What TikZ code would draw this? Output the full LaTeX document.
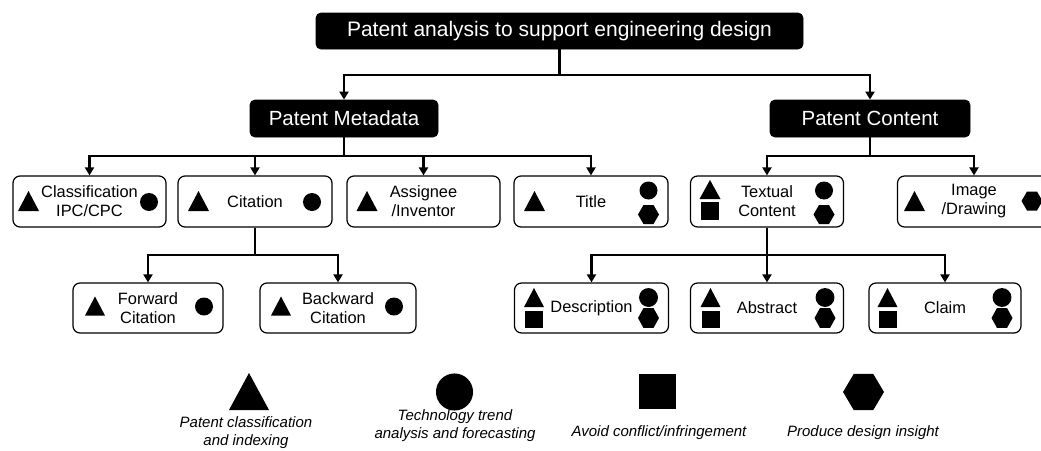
\documentclass[tikz,border=0pt]{standalone}
\usepackage{fontspec}
\setmainfont{Liberation Sans}
\usetikzlibrary{arrows.meta,calc}
\tikzset{
  blk/.style={draw=black, fill=black, text=white, rounded corners=5pt, line width=0.8pt, inner sep=0pt, font=\fontsize{20.5}{24}\selectfont},
  wbox/.style={draw=black, fill=white, rounded corners=7pt, line width=1.2pt, inner sep=0pt, minimum height=51pt, align=center, font=\fontsize{16.4}{19}\selectfont},
  conn/.style={line width=2.7pt},
  arr/.style={conn, -{Triangle[width=9pt,length=8pt]}},
  lgd/.style={align=center, inner sep=0pt, font=\fontsize{15}{18}\selectfont\itshape},
  pics/tri/.style={code={\fill (-10.5,10) -- (10.5,10) -- (0,-10) -- cycle;}},
  pics/circ/.style={code={\fill (0,0) circle[radius=9];}},
  pics/sq/.style={code={\fill (-9,-9) rectangle (9,9);}},
  pics/hex/.style={code={\fill (-10.5,0) -- (-5,-9.5) -- (5,-9.5) -- (10.5,0) -- (5,9.5) -- (-5,9.5) -- cycle;}},
}
\begin{document}
\begin{tikzpicture}[x=1pt,y=-1pt]
\useasboundingbox (0,0) rectangle (1041,450);
\clip (0,0) rectangle (1041,450);

% level 0 and 1
\node[blk, minimum width=487pt, minimum height=36pt, font=\fontsize{21}{24}\selectfont] (top) at (559.5,31) {Patent analysis to support engineering design};
\node[blk, minimum width=188pt, minimum height=37pt] (meta) at (344,118.5) {Patent Metadata};
\node[blk, minimum width=200pt, minimum height=37pt] (cont) at (870,118.5) {Patent Content};

% level 2
\node[wbox, minimum width=153pt] (cls) at (89.5,201.5) {Classification\\IPC/CPC};
\node[wbox, minimum width=154pt] (cit) at (255,201.5) {Citation};
\node[wbox, minimum width=153pt] (asg) at (423.5,201.5) {Assignee\\/Inventor};
\node[wbox, minimum width=154pt] (ttl) at (591,201.5) {Title};
\node[wbox, minimum width=153pt] (txt) at (767,201.5) {Textual\\Content};
\node[wbox, minimum width=153pt] (img) at (974,201.5) {Image\\/Drawing};

% level 3
\node[wbox, minimum width=150pt, minimum height=50pt] (fwd) at (148,308) {Forward\\Citation};
\node[wbox, minimum width=156pt, minimum height=50pt] (bwd) at (338,308) {Backward\\Citation};
\node[wbox, minimum width=154pt, minimum height=50pt] (des) at (591.5,308) {Description};
\node[wbox, minimum width=153pt, minimum height=50pt] (abst) at (767,308) {Abstract};
\node[wbox, minimum width=152pt, minimum height=50pt] (clm) at (945,308) {Claim};

% junction levels
\coordinate (y1) at (0,75);
\coordinate (y2) at (0,156);
\coordinate (y3) at (0,255);

% connectors
\draw[conn] (top.south) -- (top.south |- y1);
\draw[arr] (top.south |- y1) -| (meta.north);
\draw[arr] (top.south |- y1) -| (cont.north);

\draw[conn] (meta.south) -- (meta.south |- y2);
\foreach \n in {cls,cit,asg,ttl} \draw[arr] (meta.south |- y2) -| (\n.north);
\draw[conn] (cont.south) -- (cont.south |- y2);
\foreach \n in {txt,img} \draw[arr] (cont.south |- y2) -| (\n.north);

\draw[conn] (cit.south) -- (cit.south |- y3);
\foreach \n in {fwd,bwd} \draw[arr] (cit.south |- y3) -| (\n.north);
\draw[conn] (txt.south) -- (txt.south |- y3);
\foreach \n in {des,abst,clm} \draw[arr] (txt.south |- y3) -| (\n.north);

% icons, level 2
\pic at (28.5,201) {tri};   \pic at (149,202) {circ};
\pic at (198.5,201) {tri};  \pic at (312,202) {circ};
\pic at (367,201) {tri};
\pic at (534.5,201) {tri};  \pic at (648.5,190.5) {circ}; \pic at (648.5,214.5) {hex};
\pic[yscale=0.95] at (710,189.5) {tri}; \pic at (710,211) {sq};
\pic at (824,190.5) {circ}; \pic at (824,214.5) {hex};
\pic at (914.5,201) {tri};  \pic at (1032,201) {hex};

% icons, level 3
\pic[scale=0.95] at (95,306) {tri};  \pic at (204,306.5) {circ};
\pic[scale=0.95] at (281,306) {tri}; \pic at (394,306.5) {circ};
\pic[scale=0.95] at (534,297.5) {tri}; \pic[yscale=0.95] at (534,319.5) {sq};
\pic[scale=1.05] at (648.5,297.5) {circ}; \pic[yscale=1.05] at (648.5,318) {hex};
\pic[scale=0.95] at (710.5,297.5) {tri}; \pic[yscale=0.95] at (710.5,319.5) {sq};
\pic[scale=1.05] at (825,297.5) {circ}; \pic[yscale=1.05] at (825,318) {hex};
\pic[scale=0.95] at (887.5,297.5) {tri}; \pic[yscale=0.95] at (887.5,319.5) {sq};
\pic[scale=1.05] at (1002,297.5) {circ}; \pic[yscale=1.05] at (1002,318) {hex};

% legend
\pic[xscale=1.905,yscale=1.85] at (249,391.5) {tri};
\pic[scale=2.06] at (454.5,392) {circ};
\pic[xscale=2.055,yscale=1.94] at (657.5,391.5) {sq};
\pic[xscale=1.95,yscale=1.9] at (863.5,392) {hex};
\node[lgd] (l1) at (246,432.5) {Patent classification\\and indexing};
\node[lgd] (l2) at (455,426) {Technology trend\\analysis and forecasting};
\node[lgd] (l3) at (659,433) {Avoid conflict/infringement};
\node[lgd] (l4) at (863,433) {Produce design insight};
\end{tikzpicture}
\end{document}
